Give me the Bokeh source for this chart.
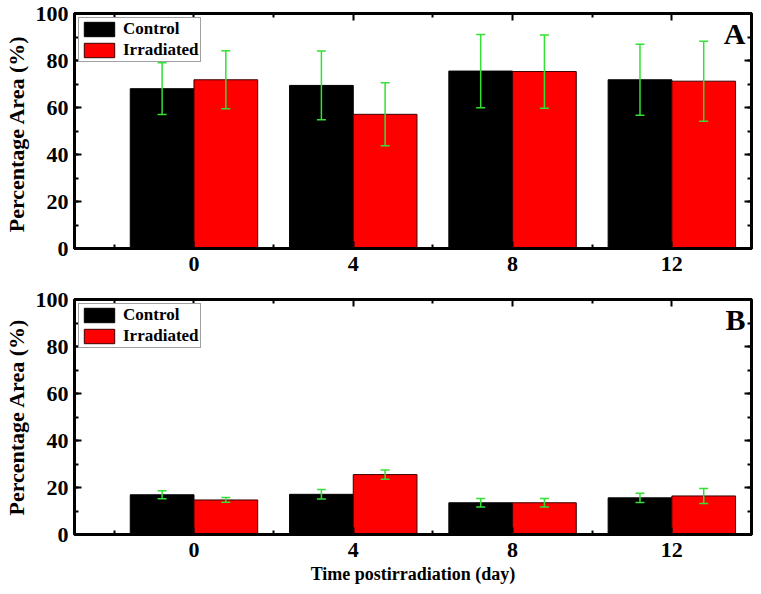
from bokeh.plotting import figure
from bokeh.models import (ColumnDataSource, Whisker, TeeHead, FixedTicker,
                          SingleIntervalTicker, LinearAxis, Label, Range1d)
from bokeh.layouts import column
from bokeh.embed import file_html
from bokeh.resources import INLINE

# ---- data ----
days = [0, 4, 8, 12]
day_labels = ["0", "4", "8", "12"]
minor_days = [-2, 2, 6, 10]
series_names = ["Control", "Irradiated"]

a_control = [68.0, 69.4, 75.5, 71.8]
a_control_err = [11.0, 14.6, 15.6, 15.1]
a_irr = [71.8, 57.1, 75.3, 71.2]
a_irr_err = [12.3, 13.4, 15.6, 17.0]

b_control = [16.9, 17.1, 13.5, 15.6]
b_control_err = [1.7, 2.0, 1.8, 2.0]
b_irr = [14.7, 25.5, 13.5, 16.4]
b_irr_err = [1.0, 2.0, 1.8, 3.2]

y_title_a = "Percentage Area  (%)"
y_title_b = "Percentage Area (%)"
x_title = "Time postirradiation (day)"

FONT = "Liberation Serif"
GREEN = "#33E033"
OFFSET = 0.8
BAR_W = 1.6


def style_axis(ax):
    ax.axis_line_width = 3
    ax.axis_line_color = "black"
    ax.major_tick_in = 7
    ax.major_tick_out = 0
    ax.minor_tick_in = 4
    ax.minor_tick_out = 0
    ax.major_tick_line_width = 2
    ax.minor_tick_line_width = 2
    ax.major_tick_line_color = "black"
    ax.minor_tick_line_color = "black"
    ax.major_label_text_font = FONT
    ax.major_label_text_font_style = "bold"
    ax.major_label_text_font_size = "22px"
    ax.major_label_text_color = "black"
    ax.axis_label_text_font = FONT
    ax.axis_label_text_font_style = "bold"
    ax.axis_label_text_font_size = "22px"
    ax.axis_label_text_color = "black"


def make_panel(ctrl, ctrl_err, irr, irr_err, ytitle, letter, height,
               b_top, b_bottom, b_left, xtitle=None):
    p = figure(width=753, height=height, x_range=Range1d(-3, 14),
               y_range=Range1d(0, 100), output_backend="svg",
               toolbar_location=None, min_border_left=b_left,
               min_border_right=2, min_border_top=b_top,
               min_border_bottom=b_bottom)
    p.grid.visible = False
    p.outline_line_color = "black"
    p.outline_line_width = 3
    p.outline_line_alpha = 1

    src_c = ColumnDataSource(dict(
        x=[d - OFFSET for d in days], top=ctrl,
        up=[v + e for v, e in zip(ctrl, ctrl_err)],
        lo=[v - e for v, e in zip(ctrl, ctrl_err)]))
    src_i = ColumnDataSource(dict(
        x=[d + OFFSET for d in days], top=irr,
        up=[v + e for v, e in zip(irr, irr_err)],
        lo=[v - e for v, e in zip(irr, irr_err)]))

    p.vbar(x="x", top="top", width=BAR_W, source=src_c, fill_color="black",
           line_color="black", line_width=1, legend_label=series_names[0])
    p.vbar(x="x", top="top", width=BAR_W, source=src_i, fill_color="#FF0000",
           line_color="#3a0000", line_width=1, legend_label=series_names[1])

    for src in (src_c, src_i):
        w = Whisker(source=src, base="x", upper="up", lower="lo",
                    line_color=GREEN, line_width=1.5, level="annotation",
                    upper_head=TeeHead(size=9, line_color=GREEN, line_width=1.5),
                    lower_head=TeeHead(size=9, line_color=GREEN, line_width=1.5))
        p.add_layout(w)

    p.xaxis.ticker = FixedTicker(ticks=days, minor_ticks=minor_days)
    p.xaxis.major_label_overrides = {d: s for d, s in zip(days, day_labels)}
    p.yaxis.ticker = SingleIntervalTicker(interval=20, num_minor_ticks=2)
    for ax in p.xaxis + p.yaxis:
        style_axis(ax)
    p.xaxis.major_label_standoff = 8
    p.yaxis.major_label_standoff = 6
    p.yaxis.axis_label = ytitle
    p.yaxis.axis_label_standoff = 4
    if xtitle:
        p.xaxis.axis_label = xtitle
        p.xaxis.axis_label_text_font_size = "18px"
        p.xaxis.axis_label_standoff = 4

    # mirror axes (ticks only)
    top_ax = LinearAxis(ticker=FixedTicker(ticks=days, minor_ticks=minor_days),
                        major_label_overrides={d: "" for d in days})
    right_ax = LinearAxis(ticker=SingleIntervalTicker(interval=20, num_minor_ticks=2),
                          major_label_overrides={v: "" for v in range(0, 101, 20)})
    for ax in (top_ax, right_ax):
        style_axis(ax)
        ax.major_label_standoff = 0
        ax.axis_label_standoff = 0
        ax.major_label_text_font_size = "0px"
    p.add_layout(top_ax, "above")
    p.add_layout(right_ax, "right")

    p.add_layout(Label(x=13.85, y=98.5, text=letter, text_align="right",
                       text_baseline="top", text_font=FONT,
                       text_font_style="bold", text_font_size="30px",
                       text_color="black"))

    lg = p.legend[0]
    lg.location = "top_left"
    lg.margin = 4
    lg.padding = 1
    lg.spacing = 1
    lg.glyph_width = 38
    lg.glyph_height = 18
    lg.label_height = 17
    lg.label_standoff = 5
    lg.label_text_font = FONT
    lg.label_text_font_style = "bold"
    lg.label_text_font_size = "17px"
    lg.label_text_color = "black"
    lg.border_line_color = "#444444"
    lg.border_line_width = 1
    lg.background_fill_alpha = 1
    return p


pa = make_panel(a_control, a_control_err, a_irr, a_irr_err, y_title_a, "A",
                height=286, b_top=13, b_bottom=38, b_left=69)
pb = make_panel(b_control, b_control_err, b_irr, b_irr_err, y_title_b, "B",
                height=300, b_top=13, b_bottom=49, b_left=65, xtitle=x_title)

layout = column(pa, pb, spacing=0)
open("out.html", "w").write(file_html(layout, INLINE))
